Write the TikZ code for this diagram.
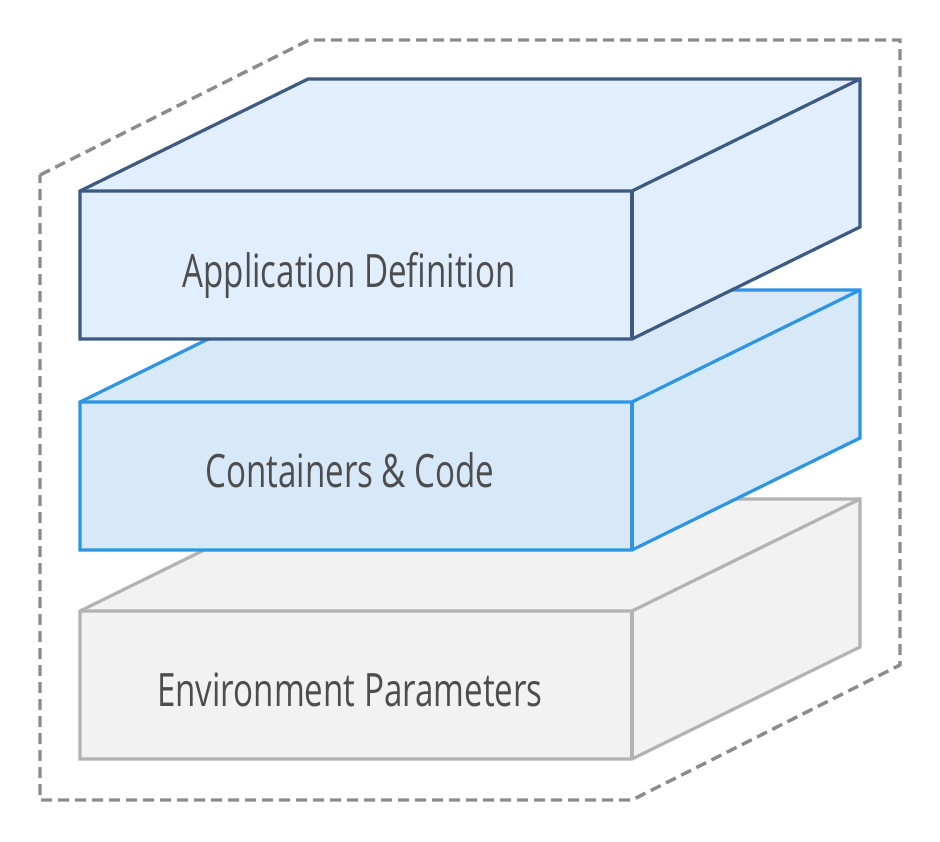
\documentclass[tikz,border=0pt]{standalone}
\usepackage{fontspec}
\setmainfont{Open Sans}[FakeStretch=0.72]
\definecolor{appfill}{HTML}{E1EEFD}
\definecolor{appdraw}{HTML}{3C5A82}
\definecolor{confill}{HTML}{D7E9F9}
\definecolor{condraw}{HTML}{2D95E3}
\definecolor{envfill}{HTML}{F2F2F2}
\definecolor{envdraw}{HTML}{B3B3B3}
\definecolor{outline}{HTML}{8C8C8C}
\definecolor{txt}{HTML}{4D4D4D}
\newcommand\layerbox[4]{%
  % #1 top y of front face, #2 fill, #3 stroke, #4 name
  \coordinate (#4fl) at (80,#1);
  \coordinate (#4fr) at (632,#1);
  \coordinate (#4bl) at (308,#1-112);
  \coordinate (#4br) at (860,#1-112);
  \coordinate (#4rb) at (860,#1+36);
  \coordinate (#4lb) at (632,#1+148);
  \coordinate (#4ll) at (80,#1+148);
  \filldraw[fill=#2,draw=#3,layer line] (#4fl) -- (#4bl) -- (#4br) -- (#4rb) -- (#4lb) -- (#4ll) -- cycle;
  \draw[#3,layer line] (#4fl) -- (#4fr) -- (#4br);
  \draw[#3,layer line] (#4fr) -- (#4lb);
}
\begin{document}
\begin{tikzpicture}[x=1pt,y=-1pt,
  layer line/.style={line width=3.2pt,line join=miter},
  label text/.style={text=txt,font=\fontsize{46}{50}\selectfont,anchor=base,inner sep=0pt}]
\useasboundingbox (0,0) rectangle (940,841);
% dashed outline
\coordinate (o1) at (40,175);
\coordinate (o2) at (309,40);
\coordinate (o3) at (900,40);
\coordinate (o4) at (900,665);
\coordinate (o5) at (632,800);
\coordinate (o6) at (40,800);
\draw[outline,line width=3.4pt,dash pattern=on 11pt off 6pt] (o1) -- (o2) -- (o3) -- (o4) -- (o5) -- (o6) -- cycle;
% layers
\layerbox{611}{envfill}{envdraw}{env}
\layerbox{402}{confill}{condraw}{con}
\layerbox{191}{appfill}{appdraw}{app}
% labels
\node[label text] (applbl) at (349,287) {Application Definition};
\node[label text] (conlbl) at (350,487) {Containers \& Code};
\node[label text] (envlbl) at (350,706) {Environment Parameters};
\end{tikzpicture}
\end{document}
